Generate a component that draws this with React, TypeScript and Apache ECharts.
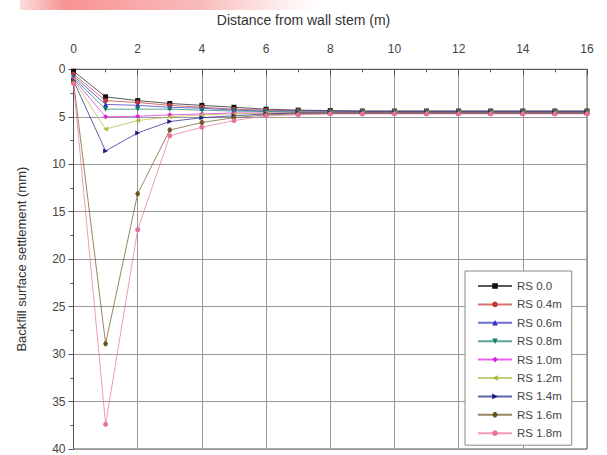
import React, { useEffect, useRef } from "react";
import * as echarts from "echarts";

const distances = [0, 1, 2, 3, 4, 5, 6, 7, 8, 9, 10, 11, 12, 13, 14, 15, 16];
const seriesNames = ["RS 0.0", "RS 0.4m", "RS 0.6m", "RS 0.8m", "RS 1.0m", "RS 1.2m", "RS 1.4m", "RS 1.6m", "RS 1.8m"];
const seriesColors = ["#111111", "#c03838", "#2f2fc0", "#10806a", "#e020e0", "#b0b840", "#1c1c80", "#6a5420", "#e8709a"];
const seriesSymbols = [
  "rect",
  "circle",
  "triangle",
  "path://M0,0 L10,0 L5,10 Z",
  "diamond",
  "path://M10,0 L10,10 L0,5 Z",
  "path://M0,0 L0,10 L10,5 Z",
  "path://M3,0 L7,0 L10,5 L7,10 L3,10 L0,5 Z",
  "circle",
];

const rs00 = [0.2, 2.9, 3.3, 3.6, 3.8, 4.0, 4.2, 4.3, 4.35, 4.4, 4.4, 4.4, 4.4, 4.4, 4.4, 4.4, 4.4];
const rs04 = [0.5, 3.3, 3.5, 3.8, 4.0, 4.2, 4.3, 4.35, 4.4, 4.4, 4.4, 4.4, 4.4, 4.4, 4.4, 4.4, 4.4];
const rs06 = [0.7, 3.7, 3.8, 4.0, 4.1, 4.3, 4.4, 4.4, 4.4, 4.45, 4.45, 4.45, 4.45, 4.45, 4.45, 4.45, 4.45];
const rs08 = [0.9, 4.2, 4.2, 4.2, 4.3, 4.4, 4.45, 4.5, 4.5, 4.5, 4.5, 4.5, 4.5, 4.5, 4.5, 4.5, 4.5];
const rs10 = [1.0, 5.0, 4.95, 4.8, 4.7, 4.6, 4.6, 4.6, 4.6, 4.6, 4.6, 4.6, 4.6, 4.6, 4.6, 4.6, 4.6];
const rs12 = [1.1, 6.3, 5.4, 5.0, 4.8, 4.7, 4.6, 4.6, 4.6, 4.6, 4.6, 4.6, 4.6, 4.6, 4.6, 4.6, 4.6];
const rs14 = [1.2, 8.6, 6.7, 5.5, 5.1, 4.9, 4.7, 4.6, 4.6, 4.6, 4.6, 4.6, 4.6, 4.6, 4.6, 4.6, 4.6];
const rs16 = [1.3, 28.9, 13.1, 6.4, 5.6, 5.1, 4.8, 4.7, 4.65, 4.65, 4.65, 4.65, 4.65, 4.65, 4.65, 4.65, 4.65];
const rs18 = [1.5, 37.4, 16.9, 7.0, 6.1, 5.4, 4.9, 4.8, 4.7, 4.7, 4.7, 4.7, 4.7, 4.7, 4.7, 4.7, 4.7];
const allValues = [rs00, rs04, rs06, rs08, rs10, rs12, rs14, rs16, rs18];

const xTitle = "Distance from wall stem (m)";
const yTitle = "Backfill surface settlement (mm)";

export default function App() {
  const ref = useRef<HTMLDivElement>(null);
  useEffect(() => {
    if (!ref.current) return;
    const chart = echarts.init(ref.current, undefined, { renderer: "svg" });
    const font = "'Liberation Sans', Arial, sans-serif";
    chart.setOption({
      animation: false,
      backgroundColor: "#ffffff",
      textStyle: { fontFamily: font },
      graphic: [
        {
          type: "rect",
          shape: { x: 20, y: 0, width: 300, height: 10 },
          style: {
            fill: new echarts.graphic.LinearGradient(0, 0, 1, 0, [
              { offset: 0, color: "rgba(245,120,120,0.25)" },
              { offset: 0.15, color: "rgba(245,110,110,0.75)" },
              { offset: 0.6, color: "rgba(245,130,130,0.55)" },
              { offset: 1, color: "rgba(245,160,160,0)" },
            ]),
          },
          silent: true,
        },
        {
          type: "text",
          left: "center",
          top: 13,
          style: { text: xTitle, font: `14px ${font}`, fill: "#333" },
        },
      ],
      grid: { left: 73.5, right: 20, top: 69.3, bottom: 3, show: true, borderColor: "#555", borderWidth: 1 },
      legend: {
        orient: "vertical",
        left: 465,
        top: 271,
        data: seriesNames,
        backgroundColor: "#ffffff",
        borderColor: "#888",
        borderWidth: 1,
        padding: [9, 10, 6, 12],
        itemGap: 6.4,
        itemWidth: 34,
        itemHeight: 7,
        textStyle: { fontSize: 11.5, lineHeight: 12, color: "#444", fontFamily: font },
      },
      xAxis: {
        type: "value",
        position: "top",
        min: 0,
        max: 16,
        interval: 2,
        axisLine: { show: true, lineStyle: { color: "#555" } },
        axisTick: { show: true, inside: true, length: 6, lineStyle: { color: "#555" } },
        minorTick: { show: true, splitNumber: 2, length: 3, lineStyle: { color: "#555" } },
        axisLabel: { fontSize: 12, color: "#444", margin: 14 },
        splitLine: { show: true, lineStyle: { color: "#999", width: 1 } },
      },
      yAxis: {
        type: "value",
        inverse: true,
        min: 0,
        max: 40,
        interval: 5,
        name: yTitle,
        nameLocation: "middle",
        nameGap: 46,
        nameTextStyle: { fontSize: 13, color: "#333" },
        axisLine: { show: true, lineStyle: { color: "#555" } },
        axisTick: { show: true, length: 5, lineStyle: { color: "#555" } },
        minorTick: { show: true, splitNumber: 2, length: 3, lineStyle: { color: "#555" } },
        axisLabel: { fontSize: 12, color: "#444", margin: 8 },
        splitLine: { show: true, lineStyle: { color: "#999", width: 1 } },
      },
      series: seriesNames.map((name, i) => ({
        name,
        type: "line",
        data: distances.map((d, j) => [d, allValues[i][j]]),
        symbol: seriesSymbols[i],
        symbolSize: 5,
        color: seriesColors[i],
        lineStyle: { width: 1, color: seriesColors[i], opacity: 0.7 },
        itemStyle: { color: seriesColors[i] },
      })),
    });
    return () => chart.dispose();
  }, []);
  return (
    <div
      ref={ref}
      style={{ position: "fixed", left: 0, top: 0, width: 607, height: 455, background: "#fff" }}
    />
  );
}
